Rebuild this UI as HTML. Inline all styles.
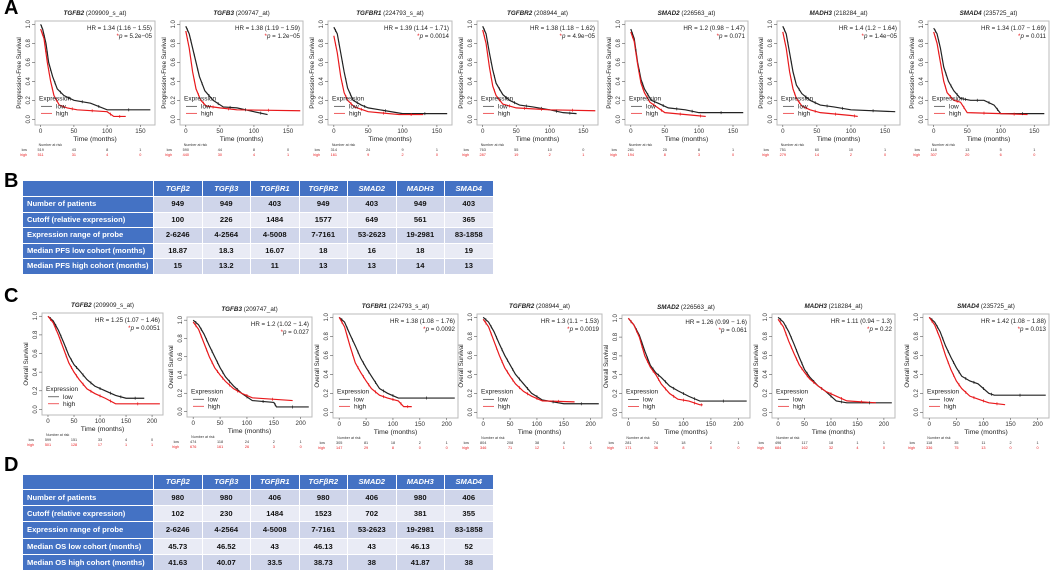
<!DOCTYPE html>
<html><head><meta charset="utf-8">
<style>
html,body{margin:0;padding:0;background:#fff;}
body{width:1050px;height:572px;position:relative;overflow:hidden;font-family:"Liberation Sans",sans-serif;}
svg{position:absolute;left:0;top:0;}
.lbl{position:absolute;font-weight:bold;font-size:20px;font-family:"Liberation Sans",sans-serif;}
table{position:absolute;border-collapse:collapse;table-layout:fixed;font-family:"Liberation Sans",sans-serif;font-size:7.6px;font-weight:bold;}
td{border:1.5px solid #fff;padding:0;text-align:center;color:#111;white-space:nowrap;overflow:hidden;line-height:10px;}
td.h{background:#4472C4;color:#fff;font-style:italic;}
td.r{background:#4472C4;color:#fff;text-align:left;padding-left:4px;}
tr.o td.v{background:#CFD5EA;}
tr.e td.v{background:#E9EBF5;}
</style></head>
<body>
<div class="lbl" style="left:4px;top:-3px;">A</div>
<div class="lbl" style="left:4px;top:170px;">B</div>
<div class="lbl" style="left:4px;top:285px;">C</div>
<div class="lbl" style="left:4px;top:454px;">D</div>

<table style="left:22px;top:180px;width:471px;">
<colgroup><col style="width:131px"><col span="7" style="width:48.5px"></colgroup>
<tr style="height:16px"><td class="h"></td><td class="h">TGFβ2</td><td class="h">TGFβ3</td><td class="h">TGFβR1</td><td class="h">TGFβR2</td><td class="h">SMAD2</td><td class="h">MADH3</td><td class="h">SMAD4</td></tr>
<tr class="o" style="height:15.5px"><td class="r">Number of patients</td><td class="v">949</td><td class="v">949</td><td class="v">403</td><td class="v">949</td><td class="v">403</td><td class="v">949</td><td class="v">403</td></tr>
<tr class="e" style="height:15.5px"><td class="r">Cutoff (relative expression)</td><td class="v">100</td><td class="v">226</td><td class="v">1484</td><td class="v">1577</td><td class="v">649</td><td class="v">561</td><td class="v">365</td></tr>
<tr class="o" style="height:15.5px"><td class="r">Expression range of probe</td><td class="v">2-6246</td><td class="v">4-2564</td><td class="v">4-5008</td><td class="v">7-7161</td><td class="v">53-2623</td><td class="v">19-2981</td><td class="v">83-1858</td></tr>
<tr class="e" style="height:15.5px"><td class="r">Median PFS low cohort (months)</td><td class="v">18.87</td><td class="v">18.3</td><td class="v">16.07</td><td class="v">18</td><td class="v">16</td><td class="v">18</td><td class="v">19</td></tr>
<tr class="o" style="height:15.5px"><td class="r">Median PFS high cohort (months)</td><td class="v">15</td><td class="v">13.2</td><td class="v">11</td><td class="v">13</td><td class="v">13</td><td class="v">14</td><td class="v">13</td></tr>
</table>

<table style="left:22px;top:474px;width:471px;">
<colgroup><col style="width:131px"><col span="7" style="width:48.5px"></colgroup>
<tr style="height:15px"><td class="h"></td><td class="h">TGFβ2</td><td class="h">TGFβ3</td><td class="h">TGFβR1</td><td class="h">TGFβR2</td><td class="h">SMAD2</td><td class="h">MADH3</td><td class="h">SMAD4</td></tr>
<tr class="o" style="height:16px"><td class="r">Number of patients</td><td class="v">980</td><td class="v">980</td><td class="v">406</td><td class="v">980</td><td class="v">406</td><td class="v">980</td><td class="v">406</td></tr>
<tr class="e" style="height:16px"><td class="r">Cutoff (relative expression)</td><td class="v">102</td><td class="v">230</td><td class="v">1484</td><td class="v">1523</td><td class="v">702</td><td class="v">381</td><td class="v">355</td></tr>
<tr class="o" style="height:17px"><td class="r">Expression range of probe</td><td class="v">2-6246</td><td class="v">4-2564</td><td class="v">4-5008</td><td class="v">7-7161</td><td class="v">53-2623</td><td class="v">19-2981</td><td class="v">83-1858</td></tr>
<tr class="e" style="height:16px"><td class="r">Median OS low cohort (months)</td><td class="v">45.73</td><td class="v">46.52</td><td class="v">43</td><td class="v">46.13</td><td class="v">43</td><td class="v">46.13</td><td class="v">52</td></tr>
<tr class="o" style="height:16px"><td class="r">Median OS high cohort (months)</td><td class="v">41.63</td><td class="v">40.07</td><td class="v">33.5</td><td class="v">38.73</td><td class="v">38</td><td class="v">41.87</td><td class="v">38</td></tr>
</table>

<svg id="chart" width="1050" height="572" xmlns="http://www.w3.org/2000/svg"></svg>

<script>
// ---- data ----
const genes = ["TGFB2","TGFB3","TGFBR1","TGFBR2","SMAD2","MADH3","SMAD4"];
const probes = ["(209909_s_at)","(209747_at)","(224793_s_at)","(208944_at)","(226563_at)","(218284_at)","(235725_at)"];
const pfsHR = ["1.34 (1.16 − 1.55)","1.38 (1.19 − 1.59)","1.39 (1.14 − 1.71)","1.38 (1.18 − 1.62)","1.2 (0.98 − 1.47)","1.4 (1.2 − 1.64)","1.34 (1.07 − 1.69)"];
const pfsP = ["5.2e−05","1.2e−05","0.0014","4.9e−05","0.071","1.4e−05","0.011"];
const osHR = ["1.25 (1.07 − 1.46)","1.2 (1.02 − 1.4)","1.38 (1.08 − 1.76)","1.3 (1.1 − 1.53)","1.26 (0.99 − 1.6)","1.11 (0.94 − 1.3)","1.42 (1.08 − 1.88)"];
const osP = ["0.0051","0.027","0.0092","0.0019","0.061","0.22","0.013"];
const pfsRiskLow = [[519,43,8,1],[590,44,8,0],[314,24,9,1],[763,55,10,0],[281,25,8,1],[751,60,10,1],[118,13,5,1]];
const pfsRiskHigh = [[511,31,4,0],[440,30,4,1],[161,9,2,0],[287,19,2,1],[194,8,3,0],[279,14,2,0],[307,20,6,0]];
const osRiskLow = [[599,151,33,4,0],[474,118,24,2,1],[305,81,18,2,1],[804,208,38,4,1],[281,74,18,2,1],[496,117,18,1,1],[118,35,11,2,1]];
const osRiskHigh = [[501,128,17,1,1],[676,161,26,3,0],[147,29,8,0,0],[346,71,12,1,0],[171,36,8,0,0],[684,162,32,4,0],[336,75,13,0,0]];
const pfsTicks = [0,50,100,150];
const osTicks = [0,50,100,150,200];
const yTicks = [0,0.2,0.4,0.6,0.8,1.0];
const pfsLow = [
 [[0,1],[3,.95],[8,.8],[12,.6],[18,.45],[25,.32],[35,.25],[50,.2],[75,.17],[100,.1],[165,.1]],
 [[0,.98],[5,.9],[10,.75],[15,.6],[20,.45],[28,.3],[40,.2],[55,.13],[75,.12],[100,.08],[120,.05]],
 [[0,.97],[5,.9],[10,.7],[15,.5],[20,.33],[28,.2],[40,.15],[50,.12],[100,.06],[165,.06]],
 [[0,.98],[5,.9],[10,.7],[15,.52],[20,.38],[30,.26],[40,.2],[55,.15],[75,.13],[100,.1],[120,.07],[140,.06]],
 [[0,.95],[5,.85],[10,.6],[15,.42],[20,.32],[30,.2],[40,.17],[55,.12],[80,.1],[100,.07],[165,.07]],
 [[0,.98],[5,.9],[10,.7],[15,.5],[20,.36],[28,.27],[40,.2],[55,.15],[75,.13],[100,.1],[165,.08]],
 [[0,.96],[5,.9],[10,.75],[15,.55],[22,.4],[30,.3],[40,.22],[55,.2],[75,.2],[90,.15],[100,.06],[165,.06]]
];
const pfsHigh = [
 [[0,.95],[5,.85],[10,.6],[15,.4],[20,.25],[28,.15],[40,.12],[55,.1],[100,.08],[110,.03],[128,.03]],
 [[0,.93],[5,.75],[10,.5],[15,.32],[22,.2],[30,.14],[50,.12],[75,.1],[168,.09]],
 [[0,.88],[5,.7],[10,.45],[15,.28],[20,.2],[30,.13],[50,.08],[95,.05],[130,.05]],
 [[0,.94],[5,.8],[10,.55],[15,.35],[20,.25],[30,.16],[50,.12],[75,.11],[100,.1],[168,.09]],
 [[0,.92],[5,.82],[10,.58],[15,.38],[20,.28],[28,.18],[40,.12],[50,.07],[95,.04],[110,.03]],
 [[0,.92],[5,.75],[10,.5],[15,.32],[20,.22],[28,.14],[40,.1],[55,.07],[100,.04],[110,.03]],
 [[0,.92],[5,.8],[10,.6],[15,.4],[20,.28],[30,.2],[40,.18],[50,.07],[100,.06],[140,.05]]
];
const osLow = [
 [[0,1],[10,.95],[20,.85],[30,.72],[40,.58],[50,.48],[60,.42],[75,.32],[90,.25],[110,.2],[130,.15],[150,.12],[185,.12]],
 [[0,1],[10,.95],[20,.85],[30,.72],[40,.6],[50,.48],[60,.38],[75,.28],[90,.2],[110,.12],[150,.1],[155,.05],[215,.05]],
 [[0,1],[10,.95],[20,.82],[30,.7],[40,.57],[50,.47],[60,.38],[75,.25],[90,.2],[110,.15],[215,.15]],
 [[0,1],[10,.95],[20,.85],[30,.72],[40,.6],[50,.5],[60,.4],[75,.3],[90,.2],[110,.13],[150,.09],[215,.09]],
 [[0,1],[10,.93],[20,.82],[30,.65],[40,.5],[50,.42],[60,.37],[75,.28],[90,.23],[110,.17],[130,.12],[215,.12]],
 [[0,1],[10,.95],[20,.85],[30,.72],[40,.58],[50,.45],[60,.37],[75,.28],[90,.22],[110,.12],[130,.1],[215,.1]],
 [[0,1],[10,.95],[20,.85],[30,.7],[40,.58],[50,.47],[60,.38],[75,.33],[90,.3],[110,.2],[120,.18],[215,.18]]
];
const osHigh = [
 [[0,1],[10,.93],[20,.8],[30,.65],[40,.5],[50,.4],[60,.32],[75,.22],[90,.17],[110,.12],[130,.06],[215,.06]],
 [[0,.98],[10,.9],[20,.75],[30,.6],[40,.48],[50,.4],[60,.33],[75,.25],[90,.2],[110,.15],[185,.12]],
 [[0,1],[10,.9],[20,.7],[30,.52],[40,.42],[50,.33],[60,.25],[75,.18],[90,.15],[110,.12],[120,.06],[135,.06]],
 [[0,.98],[10,.9],[20,.75],[30,.6],[40,.47],[50,.38],[60,.3],[75,.22],[90,.17],[110,.12],[170,.11]],
 [[0,1],[10,.93],[20,.8],[30,.6],[40,.48],[50,.4],[60,.3],[75,.2],[90,.14],[110,.12],[130,.08],[135,.08]],
 [[0,.98],[10,.9],[20,.75],[30,.62],[40,.5],[50,.42],[60,.35],[75,.28],[90,.22],[110,.17],[130,.12],[185,.1]],
 [[0,1],[10,.92],[20,.78],[30,.6],[40,.45],[50,.33],[60,.25],[75,.17],[90,.14],[110,.1],[140,.08]]
];

// ---- layout ----
const pfsBoxes = [[35,155,21,125],[180,303,21,125],[328,452,21,125],[477,598,21,125],[625,748,21,125],[777,900,21,125],[928,1049,21,125]];
const osBoxes = [[42,163,313,415],[187,312,317,417],[333,458,314,418],[477,602,314,418],[622,750,315,418],[772,895,314,418],[923,1049,314,418]];

const svg = document.getElementById('chart');
const NS = 'http://www.w3.org/2000/svg';
function mk(tag, attrs, parent){
  const e = document.createElementNS(NS, tag);
  for (const k in attrs) e.setAttribute(k, attrs[k]);
  (parent||svg).appendChild(e);
  return e;
}
function txt(x,y,s,size,anchor,fill,parent,extra){
  const t = mk('text',{x:x,y:y,'font-size':size,'text-anchor':anchor||'start',fill:fill||'#222','font-family':'Liberation Sans, sans-serif'},parent);
  if(extra) for(const k in extra) t.setAttribute(k,extra[k]);
  t.textContent = s;
  return t;
}

function drawKM(i, box, xdom, ticks, low, high, hr, p, rLow, rHigh, ylab, name){
  const [L,R,T,B] = box;
  const g = mk('g',{});
  
  
  const pxPer = (R-L)/(xdom[1]-xdom[0]);
  const xs = v => L + (v - xdom[0]) * pxPer;
  const ydom = [-0.06, 1.035];
  const ys = v => B - (v - ydom[0]) / (ydom[1]-ydom[0]) * (B - T);
  const box_ = mk('rect',{x:L,y:T,width:R-L,height:B-T,fill:'none',stroke:'#bbb','stroke-width':1},g);
  
  
  const tt = txt((L+R)/2, T-6, '', 6.3, 'middle', '#222', g);
  const ts1 = mk('tspan',{'font-style':'italic','font-weight':'bold'},tt); ts1.textContent = genes[i];
  const ts2 = mk('tspan',{},tt); ts2.textContent = ' ' + probes[i];
  
  
  yTicks.forEach(v=>{
    const y = ys(v);
    mk('line',{x1:L-3,x2:L,y1:y,y2:y,stroke:'#555','stroke-width':0.6},g);
    const t = txt(L-5, y, v.toFixed(1), 6, 'middle', '#333', g, {transform:`rotate(-90 ${L-5} ${y})`});
    
    
  });
  const yl = txt(L-14,(T+B)/2,ylab,6.2,'middle','#222',g,{transform:`rotate(-90 ${L-14} ${(T+B)/2})`});
  
  
  ticks.forEach(v=>{
    const x = xs(v);
    mk('line',{x1:x,x2:x,y1:B,y2:B+2,stroke:'#555','stroke-width':0.6},g);
    const t = txt(x, B+8, String(v), 6.2, 'middle', '#333', g);
    
    
  });
  const xl = txt((L+R)/2, B+16, 'Time (months)', 6.8, 'middle', '#222', g);
  
  
  // curves (dense KM steps approximated by connecting points; flat tails stay flat)
  function curvePath(pts){
    let d = `M${xs(pts[0][0])},${ys(pts[0][1])}`;
    for (let k=1;k<pts.length;k++){
      if (k === pts.length-1 && pts[k][1] === pts[k-1][1]) d += ` H${xs(pts[k][0])}`;
      else d += ` L${xs(pts[k][0])},${ys(pts[k][1])}`;
    }
    return d;
  }
  const cl = mk('path',{d:curvePath(low),fill:'none',stroke:'#222','stroke-width':1.2},g);
  
  
  const ch = mk('path',{d:curvePath(high),fill:'none',stroke:'#e8191c','stroke-width':1.2},g);
  
  
  [[low,'#222'],[high,'#e8191c']].forEach(([pts,c])=>{
    for(let k=1;k<pts.length;k++){
      const xm = (xs(pts[k-1][0])+xs(pts[k][0]))/2, ym = (ys(pts[k-1][1])+ys(pts[k][1]))/2;
      const m = mk('line',{x1:xm,x2:xm,y1:ym-1.5,y2:ym+1.5,stroke:c,'stroke-width':0.7},g);
      
      
    }
  });
  const h = txt(R-3, T+9, 'HR = ' + hr, 6.2, 'end', '#222', g);
  
  
  const pt = txt(R-3, T+17, '', 6.2, 'end', '#222', g);
  const s1 = mk('tspan',{fill:'#e8191c'},pt); s1.textContent='*';
  const s2 = mk('tspan',{'font-style':'italic'},pt); s2.textContent='p';
  const s3 = mk('tspan',{},pt); s3.textContent=' = ' + p;
  
  
  const lg = mk('g',{},g);
  
  
  const ly = ys(0.2);
  txt(L+4, ly, 'Expression', 6.5, 'start', '#222', lg);
  mk('line',{x1:L+6,x2:L+17,y1:ly+6,y2:ly+6,stroke:'#333','stroke-width':0.7},lg);
  txt(L+21, ly+8, 'low', 6.5, 'start', '#222', lg);
  mk('line',{x1:L+6,x2:L+17,y1:ly+13,y2:ly+13,stroke:'#e8191c','stroke-width':0.7},lg);
  txt(L+21, ly+15, 'high', 6.5, 'start', '#222', lg);
  const rk = mk('g',{},g);
  
  
  txt(xs(0)-2, B+21, 'Number at risk', 3.6, 'start', '#333', rk);
  txt(L-8, B+26, 'low', 3.6, 'end', '#333', rk);
  txt(L-8, B+31, 'high', 3.6, 'end', '#e8191c', rk);
  ticks.forEach((v,k)=>{
    txt(xs(v), B+26, String(rLow[k]), 3.8, 'middle', '#333', rk);
    txt(xs(v), B+31, String(rHigh[k]), 3.8, 'middle', '#e8191c', rk);
  });
}

for (let i=0;i<7;i++){
  drawKM(i, pfsBoxes[i], [-8.5,172], pfsTicks, pfsLow[i], pfsHigh[i], pfsHR[i], pfsP[i], pfsRiskLow[i], pfsRiskHigh[i], 'Progression-Free Survival', 'pfs-km-plot-' + genes[i].toLowerCase());
  drawKM(i, osBoxes[i], [-11.5,221], osTicks, osLow[i], osHigh[i], osHR[i], osP[i], osRiskLow[i], osRiskHigh[i], 'Overall Survival', 'os-km-plot-' + genes[i].toLowerCase());
}
</script>
</body></html>
